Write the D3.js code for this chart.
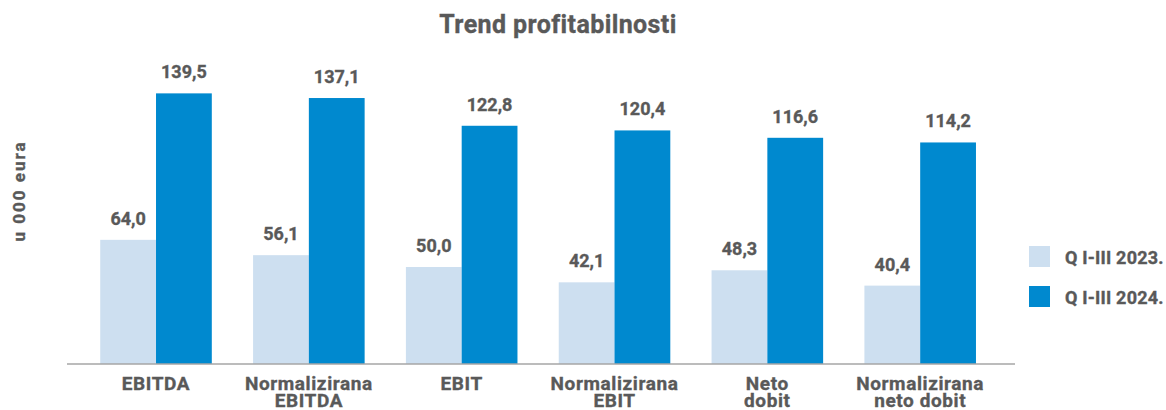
<!DOCTYPE html>
<html>
<head>
<meta charset="utf-8">
<script src="https://cdn.jsdelivr.net/npm/d3@7"></script>
<style>
  html, body { margin: 0; padding: 0; background: #fff; }
  svg { display: block; }
  text { font-family: Roboto, "Liberation Sans", sans-serif; font-weight: 700; fill: #595959; stroke: #595959; stroke-width: 0.35px; }
</style>
</head>
<body>
<svg id="chart" width="1166" height="410"></svg>
<script>
const categories = [["EBITDA"], ["Normalizirana", "EBITDA"], ["EBIT"], ["Normalizirana", "EBIT"], ["Neto", "dobit"], ["Normalizirana", "neto dobit"]];
const seriesNames = ["Q I-III 2023.", "Q I-III 2024."];
const values2023 = [64.0, 56.1, 50.0, 42.1, 48.3, 40.4];
const values2024 = [139.5, 137.1, 122.8, 120.4, 116.6, 114.2];
const colors = ["#cddff0", "#0089cf"];
const title = "Trend profitabilnosti";
const yTitle = "u 000 eura";

const svg = d3.select("#chart");
const seriesValues = [values2023, values2024];
const catIdx = d3.range(categories.length);

const x0 = d3.scaleBand().domain(catIdx).range([79.6, 996.6]).paddingInner(0.27).paddingOuter(0.135);
const x1 = d3.scaleBand().domain([0, 1]).range([0, x0.bandwidth()]);
const y = d3.scaleLinear().domain([0, 150]).range([364, 73]);
const fmt = v => d3.format(".1f")(v).replace(".", ",");

svg.append("text").attr("x", 558).attr("y", 33).attr("text-anchor", "middle")
  .style("font-size", "25px").style("letter-spacing", "0.4px").text(title);

svg.append("text").attr("transform", "translate(25,191) rotate(-90)").attr("text-anchor", "middle")
  .style("font-size", "17px").style("letter-spacing", "2px").text(yTitle);

const groups = svg.append("g").selectAll("g").data(catIdx).join("g")
  .attr("transform", i => `translate(${x0(i)},0)`);

groups.selectAll("rect").data(i => seriesValues.map((s, k) => ({k, v: s[i]}))).join("rect")
  .attr("x", d => x1(d.k)).attr("width", x1.bandwidth())
  .attr("y", d => y(d.v)).attr("height", d => y(0) - y(d.v))
  .attr("fill", d => colors[d.k]);

groups.selectAll("text.val").data(i => seriesValues.map((s, k) => ({k, v: s[i]}))).join("text")
  .attr("class", "val")
  .attr("x", d => x1(d.k) + x1.bandwidth() / 2).attr("y", d => y(d.v) - 15)
  .attr("text-anchor", "middle").style("font-size", "18px").text(d => fmt(d.v));

svg.append("line").attr("x1", 67).attr("x2", 1015).attr("y1", 364).attr("y2", 364)
  .attr("stroke", "#a6a6a6").attr("stroke-width", 1.5);

const cl = svg.append("g").selectAll("text").data(catIdx).join("text")
  .attr("text-anchor", "middle").style("font-size", "19px").style("letter-spacing", "0.6px")
  .attr("transform", i => `translate(${x0(i) + x0.bandwidth() / 2},390)`);
cl.selectAll("tspan").data(i => categories[i]).join("tspan")
  .attr("x", 0).attr("dy", (d, j) => j === 0 ? 0 : 17).text(d => d);

const leg = svg.append("g").selectAll("g").data(seriesNames).join("g")
  .attr("transform", (d, i) => `translate(1029,${246 + i * 40})`);
leg.append("rect").attr("width", 21).attr("height", 21).attr("fill", (d, i) => colors[i]);
leg.append("text").attr("x", 36).attr("y", 18).style("font-size", "18px").style("letter-spacing", "0.2px").text(d => d);
</script>
</body>
</html>
